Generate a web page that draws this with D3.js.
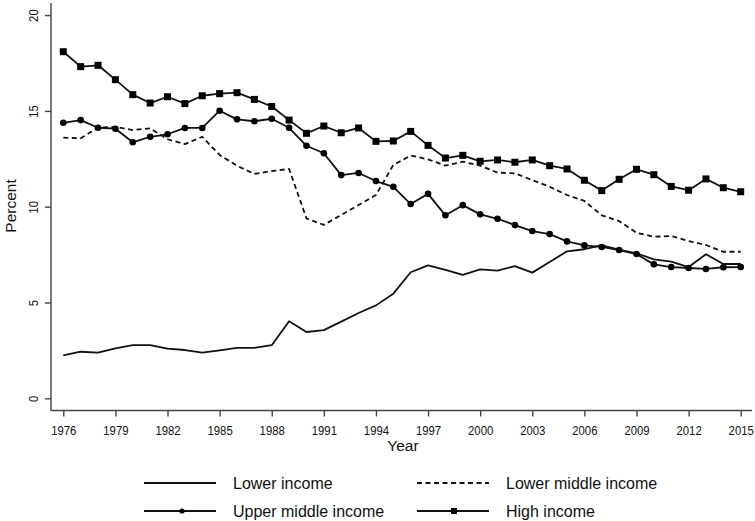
<!DOCTYPE html>
<html><head><meta charset="utf-8">
<script src="https://cdn.jsdelivr.net/npm/d3@7"></script>
<style>body{margin:0;background:#fff}svg{display:block}text{font-family:"Liberation Sans",Arial,sans-serif;fill:#111}</style>
</head><body><svg id="c" width="755" height="521"></svg>
<script>
const years = d3.range(1976, 2016);
const lowerIncome = [2.24,2.43,2.38,2.61,2.78,2.78,2.59,2.52,2.38,2.50,2.63,2.63,2.77,4.02,3.46,3.56,4.00,4.45,4.85,5.46,6.58,6.94,6.70,6.44,6.73,6.66,6.90,6.56,7.11,7.67,7.78,7.98,7.76,7.57,7.25,7.13,6.85,7.52,7.01,7.01];
const lowerMiddle = [13.60,13.57,14.12,14.17,14.00,14.09,13.52,13.27,13.65,12.70,12.14,11.71,11.86,11.97,9.39,9.05,9.57,10.09,10.61,12.18,12.67,12.47,12.14,12.35,12.14,11.78,11.74,11.39,11.04,10.61,10.30,9.55,9.25,8.64,8.43,8.47,8.21,8.00,7.65,7.65];
const upperMiddle = [14.38,14.52,14.12,14.07,13.36,13.65,13.78,14.11,14.11,15.01,14.56,14.46,14.59,14.12,13.18,12.79,11.65,11.76,11.34,11.04,10.14,10.67,9.55,10.08,9.60,9.37,9.04,8.73,8.57,8.19,7.98,7.90,7.74,7.53,6.99,6.85,6.80,6.75,6.84,6.85];
const highIncome = [18.09,17.31,17.38,16.63,15.85,15.41,15.74,15.38,15.79,15.90,15.95,15.60,15.23,14.52,13.83,14.21,13.86,14.11,13.41,13.43,13.93,13.20,12.54,12.68,12.37,12.44,12.32,12.44,12.14,11.97,11.38,10.84,11.43,11.95,11.67,11.06,10.86,11.45,10.99,10.78];
const xTicks = [1976,1979,1982,1985,1988,1991,1994,1997,2000,2003,2006,2009,2012,2015];
const yTicks = [0,5,10,15,20];
const seriesNames = ["Lower income","Lower middle income","Upper middle income","High income"];

const svg = d3.select("#c");
const x = d3.scaleLinear().domain([1976, 2015]).range([63.3, 740.7]);
const y = d3.scaleLinear().domain([0, 20]).range([398.3, 15.1]);
const axisColor = "#444";

// axes
const xAxis = svg.append("g").attr("transform","translate(0,410.5)")
  .call(d3.axisBottom(x).tickValues(xTicks).tickFormat(d3.format("d")).tickSize(6).tickSizeOuter(0));
xAxis.select(".domain").remove();
xAxis.append("line").attr("x1",51).attr("x2",752).attr("stroke",axisColor).attr("stroke-width",1.4);
xAxis.selectAll(".tick line").attr("stroke",axisColor).attr("stroke-width",1.4);
xAxis.selectAll(".tick text").attr("font-size",13.5).attr("dy",0).attr("y",0)
  .attr("transform","translate(0,24.5) scale(0.84,1)")
  .attr("fill","#111").style("font-family","Liberation Sans, Arial, sans-serif");

const yAxis = svg.append("g").attr("transform","translate(51,0)")
  .call(d3.axisLeft(y).tickValues(yTicks).tickSize(6).tickSizeOuter(0));
yAxis.select(".domain").remove();
yAxis.append("line").attr("y1",3).attr("y2",411).attr("stroke",axisColor).attr("stroke-width",1.4);
yAxis.selectAll(".tick line").attr("stroke",axisColor).attr("stroke-width",1.4);
yAxis.selectAll(".tick text").attr("font-size",13.5).attr("x",0).attr("y",0).attr("dy",0)
  .attr("text-anchor","middle").attr("transform","translate(-13.5,0) rotate(-90) scale(0.84,1)")
  .attr("fill","#111").style("font-family","Liberation Sans, Arial, sans-serif");

svg.append("text").attr("x",403).attr("y",451).attr("text-anchor","middle").attr("font-size",15.5).text("Year");
svg.append("text").attr("transform","translate(16,206) rotate(-90)").attr("text-anchor","middle").attr("font-size",15.5).text("Percent");

const line = d3.line().x((d,i)=>x(years[i])).y(d=>y(d));
const data = [lowerIncome, lowerMiddle, upperMiddle, highIncome];
const dashes = [null, "5,3.5", null, null];
data.forEach((s,k)=>{
  svg.append("path").attr("d", line(s)).attr("fill","none").attr("stroke","#111")
    .attr("stroke-width",1.8).attr("stroke-dasharray",dashes[k]).attr("stroke-linejoin","round");
});
svg.append("g").selectAll("circle").data(upperMiddle).join("circle")
  .attr("cx",(d,i)=>x(years[i])).attr("cy",d=>y(d)).attr("r",3.3).attr("fill","#000");
svg.append("g").selectAll("rect").data(highIncome).join("rect")
  .attr("x",(d,i)=>x(years[i])-3.5).attr("y",d=>y(d)-3.5).attr("width",7).attr("height",7).attr("fill","#000");

// legend
const lg = [
  {name:seriesNames[0], x:144, y:483, dash:null, mk:null},
  {name:seriesNames[1], x:417, y:483, dash:"5,3.5", mk:null},
  {name:seriesNames[2], x:144, y:511, dash:null, mk:"c"},
  {name:seriesNames[3], x:417, y:511, dash:null, mk:"s"}
];
lg.forEach(l=>{
  svg.append("line").attr("x1",l.x).attr("x2",l.x+72).attr("y1",l.y).attr("y2",l.y)
    .attr("stroke","#111").attr("stroke-width",1.8).attr("stroke-dasharray",l.dash);
  if(l.mk==="c") svg.append("circle").attr("cx",l.x+38).attr("cy",l.y).attr("r",2.6).attr("fill","#000");
  if(l.mk==="s") svg.append("rect").attr("x",l.x+34).attr("y",l.y-3).attr("width",6).attr("height",6).attr("fill","#000");
  svg.append("text").attr("x",l.x+89).attr("y",l.y).attr("dy","0.35em").attr("font-size",16).text(l.name);
});
</script></body></html>
